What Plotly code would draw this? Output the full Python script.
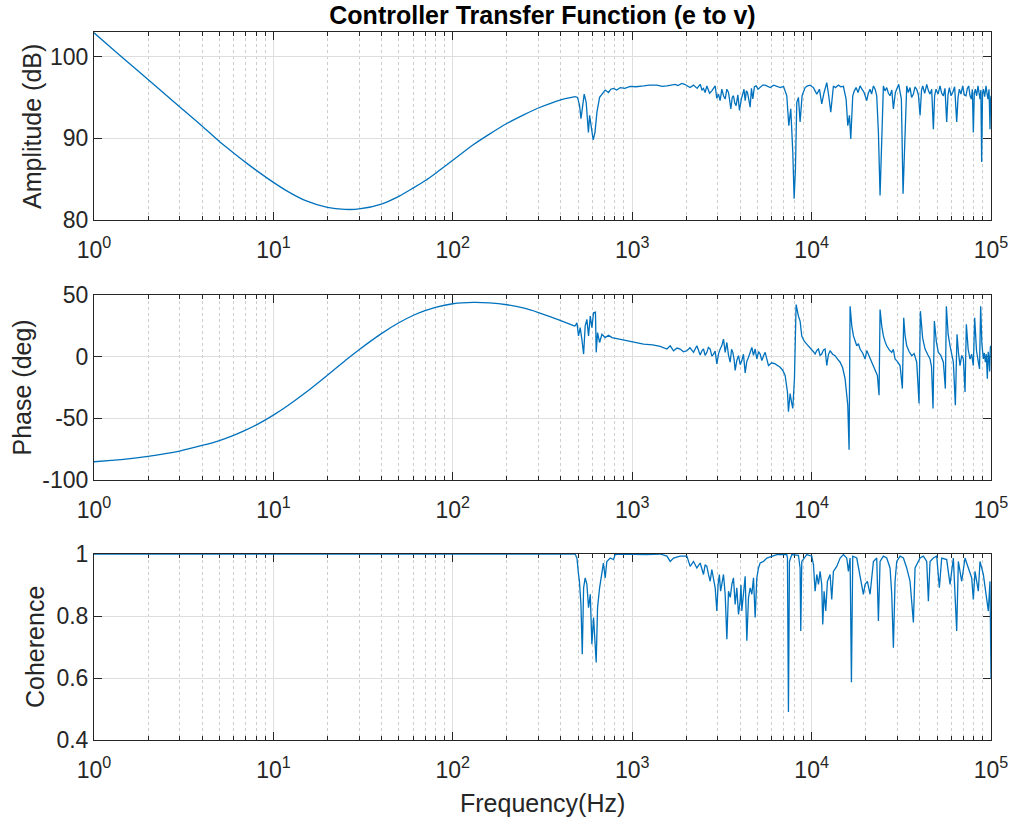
import plotly.graph_objects as go

# ---------------- data ----------------
# smooth low-frequency part (Hz)
lf_freq = [1, 1.25, 1.5, 2, 2.5, 3, 4, 5, 6, 7,
           8, 10, 12, 15, 20, 25, 30, 40, 50, 60,
           70, 80, 100, 130, 160, 200, 250, 300, 400, 480]
lf_amp_db = [102.9, 101.05, 99.55, 97.2, 95.35, 93.85, 91.5, 89.6, 88.2, 87.05,
             86.1, 84.6, 83.5, 82.4, 81.55, 81.3, 81.35, 81.95, 82.9, 83.9,
             84.8, 85.7, 87.3, 89.2, 90.5, 91.8, 92.9, 93.7, 94.7, 95.1]
lf_phase_deg = [-85.2, -84.1, -83.1, -80.9, -78.7, -76.5, -72.0, -68.0, -63.8, -59.6,
                -55.5, -47.4, -39.8, -29.5, -15.0, -3.5, 5.6, 18.7, 27.5, 33.4,
                37.3, 40.0, 42.9, 44.0, 43.6, 42.1, 39.3, 35.8, 29.3, 24.7]
lf_coh = [1.0, 1.0, 1.0, 1.0, 1.0, 1.0, 1.0, 1.0, 1.0, 1.0,
          1.0, 1.0, 1.0, 1.0, 1.0, 1.0, 1.0, 1.0, 1.0, 1.0,
          1.0, 1.0, 1.0, 1.0, 1.0, 1.0, 1.0, 1.0, 1.0, 1.0]

# noisy high-frequency part: amplitude
hf_amp_freq = [496, 509, 518, 527, 540, 554, 570, 579, 591, 606,
               620, 636, 658, 678, 707, 738, 760, 787, 820, 858,
               910, 975, 1050, 1157, 1250, 1373, 1470, 1561, 1650, 1737,
               1800, 1891, 1960, 2017, 2100, 2197, 2300, 2393, 2450, 2497,
               2550, 2607, 2700, 2779, 2840, 2901, 2960, 3028, 3090, 3159,
               3230, 3298, 3370, 3442, 3500, 3546, 3610, 3669, 3730, 3797,
               3880, 3963, 4050, 4137, 4200, 4263, 4330, 4392, 4470, 4545,
               4620, 4703, 4800, 4909, 5030, 5168, 5340, 5510, 5700, 5875,
               6150, 6400, 6700, 6970, 7273, 7463, 7654, 7855, 7990, 8128,
               8268, 8446, 8628, 8851, 9200, 9500, 9809, 10240, 10690, 11060,
               11390, 11740, 12150, 12460, 12790, 13230, 13600, 14110, 14550, 15040,
               15570, 15910, 16250, 16530, 16960, 17300, 17700, 18150, 18630, 19100,
               19610, 20290, 20700, 21180, 21600, 22110, 22600, 23070, 23570, 24080,
               24490, 25130, 25650, 26230, 26800, 27370, 28000, 28570, 29310, 30000,
               30590, 31100, 31650, 32340, 33040, 33900, 34600, 35380, 36100, 36930,
               37700, 38540, 39400, 40230, 41000, 41630, 42700, 43820, 44800, 45730,
               46700, 47720, 48500, 49390, 50700, 51990, 53100, 54260, 55400, 56620,
               57600, 58610, 59900, 61170, 62700, 64390, 65500, 66630, 68000, 69540,
               71000, 72560, 73800, 75100, 76400, 77700, 78700, 79720, 80700, 81790,
               83200, 84640, 85700, 86840, 87800, 88720, 89700, 90640, 92200, 93780,
               95000, 96230, 97500, 98720, 99400, 100000]
hf_amp_db = [95.0, 94.0, 92.4, 93.6, 95.4, 94.4, 90.7, 92.8, 91.4, 89.8,
             90.7, 93.2, 95.0, 95.4, 95.9, 95.6, 96.0, 96.1, 95.9, 96.2,
             96.1, 96.35, 96.3, 96.4, 96.5, 96.5, 96.35, 96.4, 96.55, 96.6,
             96.45, 96.7, 96.6, 96.4, 96.2, 96.5, 96.1, 96.6, 95.9, 96.1,
             95.6, 96.4, 95.5, 95.8, 96.2, 96.4, 94.9, 95.4, 94.6, 96.0,
             95.2, 94.8, 96.0, 95.6, 94.5, 93.6, 95.0, 95.2, 94.3, 94.0,
             95.3, 93.4, 94.7, 95.4, 96.0, 94.6, 95.8, 95.6, 94.6, 93.8,
             96.1, 94.8, 96.3, 96.4, 96.0, 96.2, 96.5, 96.5, 96.3, 96.2,
             96.5, 96.4, 96.2, 96.35, 95.2, 91.55, 93.6, 88.3, 82.6, 86.3,
             94.4, 95.0, 92.0, 95.2, 96.2, 96.4, 96.5, 96.2, 95.4, 96.0,
             94.2, 95.6, 96.8, 95.2, 93.2, 96.4, 96.2, 96.5, 96.3, 96.35,
             94.8, 91.55, 92.8, 89.9, 95.2, 95.8, 96.2, 95.6, 96.4, 96.0,
             95.6, 94.6, 95.5, 96.0, 95.4, 96.4, 96.0, 95.2, 90.7, 83.0,
             88.3, 96.4, 95.8, 96.2, 95.5, 95.2, 95.9, 93.6, 95.6, 96.2,
             96.6, 95.7, 94.8, 83.2, 90.3, 96.4, 95.6, 96.2, 95.0, 95.4,
             96.3, 96.0, 95.3, 92.8, 95.9, 96.4, 95.5, 96.6, 95.8, 95.4,
             96.0, 91.1, 95.2, 96.0, 95.4, 96.4, 95.5, 95.2, 96.1, 92.0,
             95.3, 96.2, 95.2, 95.6, 96.3, 92.0, 95.0, 96.0, 95.4, 96.4,
             95.3, 95.2, 96.1, 96.4, 95.2, 94.8, 96.0, 90.7, 95.5, 96.0,
             95.2, 96.4, 95.6, 94.8, 95.9, 87.1, 95.6, 96.0, 95.1, 96.4,
             95.5, 94.8, 96.0, 91.1, 94.5, 95.2]

# noisy high-frequency part: phase
hf_phase_freq = [492, 502, 513, 524, 536, 547, 559, 571, 584, 596,
                 609, 624, 630, 641, 658, 678, 707, 738, 771, 822,
                 934, 1050, 1157, 1300, 1432, 1561, 1629, 1700, 1780, 1851,
                 1930, 2017, 2100, 2197, 2293, 2393, 2450, 2497, 2550, 2607,
                 2660, 2721, 2780, 2840, 2900, 2964, 3030, 3094, 3160, 3228,
                 3298, 3370, 3440, 3517, 3580, 3639, 3700, 3749, 3830, 3913,
                 4000, 4084, 4170, 4263, 4350, 4449, 4540, 4644, 4740, 4846,
                 4951, 5060, 5168, 5279, 5390, 5510, 5630, 5750, 6000, 6264,
                 6677, 6900, 7119, 7335, 7429, 7590, 7721, 7855, 8023, 8197,
                 8446, 8628, 8815, 9100, 9397, 9700, 10020, 10240, 10460, 10690,
                 10920, 11150, 11390, 11640, 11890, 12150, 12400, 12680, 13100, 13520,
                 13950, 14420, 14900, 15370, 15910, 16180, 16390, 16750, 17110, 17480,
                 17850, 18230, 18630, 19250, 19870, 20300, 20730, 21400, 22110, 22700,
                 23270, 23770, 24080, 24600, 25130, 25700, 26230, 27100, 27970, 28550,
                 29190, 30100, 31120, 32060, 32620, 33200, 33900, 35000, 36140, 37300,
                 38540, 39710, 40400, 41600, 42900, 44300, 45730, 46600, 47520, 48340,
                 49600, 50880, 52500, 54260, 55670, 56390, 57700, 59120, 60400, 61680,
                 63290, 64660, 65900, 67200, 68700, 70130, 71650, 72880, 74600, 76380,
                 78000, 79720, 81100, 83000, 84990, 86300, 87570, 89000, 90640, 91800,
                 93000, 94200, 95410, 96500, 97460, 98300, 99150, 100000]
hf_phase_deg = [27.5, 16.8, 23.5, 14.2, 2.1, 24.9, 30.2, 16.8, 32.9, 23.5,
                35.6, 36.1, 3.5, 19.5, 11.5, 18.2, 15.5, 17.4, 15.5, 14.7,
                12.8, 11.3, 10.2, 9.6, 8.3, 6.2, 8.8, 4.8, 7.0, 6.2,
                4.0, 4.8, 7.2, 3.5, 8.8, 1.3, 5.0, 6.2, 1.0, 3.5,
                7.5, 6.2, 0.5, 2.1, 4.5, -5.9, 2.5, 6.2, 9.0, 14.2,
                3.5, 11.5, 1.5, -4.5, 6.0, 3.5, -2.5, -11.2, -3.0, 0.8,
                -6.5, -3.2, 2.0, -13.1, -4.0, -0.5, 4.0, 7.5, 1.0, 6.2,
                -1.9, 4.0, 2.1, -3.2, 0.5, 3.5, -2.0, -7.2, -5.0, -5.9,
                -8.6, -11.0, -15.2, -28.6, -44.7, -29.9, -36.6, -42.0, -17.9, 42.2,
                32.9, 28.9, 16.8, 12.5, 10.2, 8.0, 6.2, 4.0, 2.1, 5.0,
                6.2, 1.0, 2.1, 5.5, 6.2, -7.2, 1.5, 4.8, 2.0, 0.8,
                -2.0, -4.5, -9.0, -17.9, -39.3, -75.4, 40.9, 25.0, 16.8, 12.0,
                8.8, 10.5, 6.2, 3.0, -1.9, 5.0, 2.1, -3.5, -7.2, -11.0,
                -15.2, -31.3, 38.2, 25.0, 16.8, 12.0, 8.8, 5.5, 3.5, 6.0,
                -1.9, -4.0, -7.2, -25.9, 31.6, 17.0, 8.8, 4.0, 0.8, 2.5,
                -4.5, -38.0, 36.9, 15.0, 6.2, 2.0, -1.9, -8.0, -42.0, 28.9,
                12.0, 3.5, 1.0, -4.5, -25.9, 40.9, 18.0, 8.8, 2.0, -4.5,
                -39.3, 18.2, 3.0, -7.2, 1.0, -1.9, -28.6, 26.2, 6.0, -1.9,
                2.0, -7.2, 31.6, 5.0, -4.5, -10.0, 40.9, 10.0, -1.9, 3.0,
                -4.5, 2.0, -17.9, 4.0, -1.9, -12.0, 7.5, 8.8]

# noisy high-frequency part: coherence
hf_coh_freq = [492, 502, 508, 518, 527, 536, 547, 559, 571, 584,
               596, 609, 624, 630, 641, 658, 678, 691, 707, 722,
               754, 787, 803, 858, 1200, 1432, 1561, 1629, 1700, 1851,
               2017, 2104, 2197, 2293, 2393, 2450, 2497, 2550, 2607, 2660,
               2721, 2779, 2840, 2901, 2964, 3010, 3061, 3110, 3159, 3228,
               3298, 3370, 3442, 3520, 3594, 3669, 3749, 3829, 3913, 3996,
               4040, 4084, 4170, 4263, 4355, 4449, 4545, 4644, 4744, 4846,
               4951, 5058, 5168, 5393, 5629, 6000, 6400, 7273, 7335, 7429,
               7525, 7752, 8446, 8628, 8702, 8815, 9397, 10020, 10240, 10460,
               10690, 10920, 11150, 11390, 11540, 11740, 11990, 12250, 12680, 12950,
               13230, 13810, 14420, 15040, 15700, 16040, 16390, 16670, 16960, 17850,
               18630, 19440, 19870, 20470, 21180, 22110, 23070, 23570, 24080, 25130,
               26230, 27370, 27970, 28570, 29190, 29820, 31120, 32480, 33900, 35380,
               36930, 37730, 40230, 41980, 43820, 44770, 45730, 47720, 49820, 51550,
               53120, 56620, 59120, 61680, 64380, 65770, 68650, 71650, 74770, 78050,
               79720, 81450, 84990, 86840, 90640, 94590, 96630, 98720, 100000]
hf_coh = [0.987, 0.934, 0.912, 0.837, 0.677, 0.891, 0.923, 0.902, 0.827, 0.870,
          0.709, 0.795, 0.709, 0.650, 0.827, 0.891, 0.939, 0.971, 0.923, 0.976,
          0.987, 0.982, 0.998, 1.0, 0.998, 1.0, 0.993, 0.976, 0.987, 0.993,
          0.993, 0.960, 0.976, 0.955, 0.971, 0.945, 0.934, 0.965, 0.960, 0.935,
          0.912, 0.950, 0.925, 0.891, 0.816, 0.900, 0.934, 0.880, 0.902, 0.934,
          0.870, 0.725, 0.880, 0.860, 0.902, 0.923, 0.837, 0.891, 0.805, 0.848,
          0.900, 0.816, 0.870, 0.928, 0.720, 0.859, 0.891, 0.870, 0.923, 0.795,
          0.923, 0.955, 0.971, 0.976, 0.987, 0.993, 0.998, 0.998, 0.987, 0.490,
          0.976, 0.998, 0.996, 0.955, 0.752, 0.976, 0.998, 0.993, 0.966, 0.880,
          0.934, 0.902, 0.944, 0.902, 0.773, 0.880, 0.816, 0.912, 0.934, 0.853,
          0.944, 0.960, 0.987, 0.998, 0.987, 0.944, 0.987, 0.586, 0.993, 0.987,
          0.934, 0.870, 0.902, 0.912, 0.870, 0.976, 0.987, 0.784, 0.976, 0.993,
          0.987, 0.955, 0.870, 0.698, 0.912, 0.976, 0.993, 0.987, 0.955, 0.912,
          0.779, 0.955, 0.987, 0.993, 0.976, 0.848, 0.976, 0.987, 0.993, 0.891,
          0.987, 0.982, 0.902, 0.987, 0.752, 0.976, 0.912, 0.987, 0.955, 0.923,
          0.853, 0.944, 0.880, 0.976, 0.934, 0.859, 0.816, 0.912, 0.597]

x_tick_vals = [1, 10, 100, 1000, 10000, 100000]
x_tick_text = ["10<sup>0</sup>", "10<sup>1</sup>", "10<sup>2</sup>",
               "10<sup>3</sup>", "10<sup>4</sup>", "10<sup>5</sup>"]

assert len(hf_amp_freq) == len(hf_amp_db)
assert len(hf_phase_freq) == len(hf_phase_deg)
assert len(hf_coh_freq) == len(hf_coh)

# ---------------- figure ----------------
LINE = "#0072BD"
AX = "#262626"
FONT = "Liberation Sans, Arial, Helvetica, sans-serif"
minor_vals = [m * 10 ** k for k in range(0, 5) for m in range(2, 10)]

W, H = 1013, 823
L, R, T, B = 94, 22, 32, 83
PW, PH = W - L - R, H - T - B


def px_to_paper_x(px):
    return (px - L) / PW


def px_to_paper_y(py):
    return (H - B - py) / PH


fig = go.Figure()
rows = [("x", "y", lf_amp_db, hf_amp_freq, hf_amp_db),
        ("x2", "y2", lf_phase_deg, hf_phase_freq, hf_phase_deg),
        ("x3", "y3", lf_coh, hf_coh_freq, hf_coh)]
for xa, ya, lf_vals, hf_f, hf_v in rows:
    fig.add_trace(go.Scatter(x=lf_freq, y=lf_vals, xaxis=xa, yaxis=ya, mode="lines",
                             line=dict(color=LINE, width=1.3, shape="spline", smoothing=0.8),
                             showlegend=False, hoverinfo="skip"))
    fig.add_trace(go.Scatter(x=[lf_freq[-1]] + hf_f, y=[lf_vals[-1]] + hf_v,
                             xaxis=xa, yaxis=ya, mode="lines",
                             line=dict(color=LINE, width=1.3),
                             showlegend=False, hoverinfo="skip"))


def xaxis(anchor):
    return dict(type="log", range=[0, 5], domain=[0, 1], anchor=anchor, automargin=False,
                tickmode="array", tickvals=x_tick_vals, ticktext=x_tick_text,
                showline=True, linecolor=AX, linewidth=1, mirror="ticks",
                ticks="inside", ticklen=8, tickcolor=AX, tickwidth=1, ticklabelstandoff=9,
                showgrid=True, gridcolor="#DEDEDE", gridwidth=1, zeroline=False,
                minor=dict(tickmode="array", tickvals=minor_vals, ticks="inside",
                           ticklen=4, tickcolor=AX, showgrid=True,
                           gridcolor="#CDCDCD", griddash="dot", gridwidth=1),
                tickfont=dict(family=FONT, size=23, color=AX), layer="below traces")


def yaxis(anchor, domain, rng, vals, text):
    return dict(domain=domain, anchor=anchor, range=rng, tickmode="array", automargin=False,
                tickvals=vals, ticktext=text,
                showline=True, linecolor=AX, linewidth=1, mirror="ticks",
                ticks="inside", ticklen=8, tickcolor=AX, tickwidth=1,
                showgrid=True, gridcolor="#DEDEDE", gridwidth=1, zeroline=False,
                tickfont=dict(family=FONT, size=23, color=AX), layer="below traces")


dom_top = [px_to_paper_y(220), 1.0]
dom_mid = [px_to_paper_y(480), px_to_paper_y(295)]
dom_bot = [0.0, px_to_paper_y(554)]

axis_titles = [("Amplitude (dB)", 32, (32 + 220) / 2),
               ("Phase (deg)", 21, (295 + 480) / 2),
               ("Coherence", 35, (554 + 740) / 2)]
annotations = []
for text, cx, cy in axis_titles:
    annotations.append(dict(text=text, xref="paper", yref="paper",
                            x=px_to_paper_x(cx), y=px_to_paper_y(cy),
                            xanchor="center", yanchor="middle", textangle=-90,
                            showarrow=False, font=dict(family=FONT, size=25, color=AX)))
annotations.append(dict(text="Frequency(Hz)", xref="paper", yref="paper",
                        x=0.5, y=px_to_paper_y(803), xanchor="center", yanchor="middle",
                        showarrow=False, font=dict(family=FONT, size=25, color=AX)))

fig.update_layout(
    width=W, height=H,
    margin=dict(l=L, r=R, t=T, b=B, autoexpand=False),
    paper_bgcolor="white", plot_bgcolor="white",
    title=dict(text="<b>Controller Transfer Function (e to v)</b>",
               font=dict(family=FONT, size=25, color="#000000"),
               x=(L + PW / 2) / W, xanchor="center", y=1 - 15 / H, yanchor="middle"),
    xaxis=xaxis("y"),
    xaxis2=xaxis("y2"),
    xaxis3=xaxis("y3"),
    yaxis=yaxis("x", dom_top, [80, 103], [80, 90, 100], ["80", "90", "100"]),
    yaxis2=yaxis("x2", dom_mid, [-100, 50], [-100, -50, 0, 50], ["-100", "-50", "0", "50"]),
    yaxis3=yaxis("x3", dom_bot, [0.4, 1.0], [0.4, 0.6, 0.8, 1.0], ["0.4", "0.6", "0.8", "1"]),
    annotations=annotations,
)

fig.write_html("out.html")
